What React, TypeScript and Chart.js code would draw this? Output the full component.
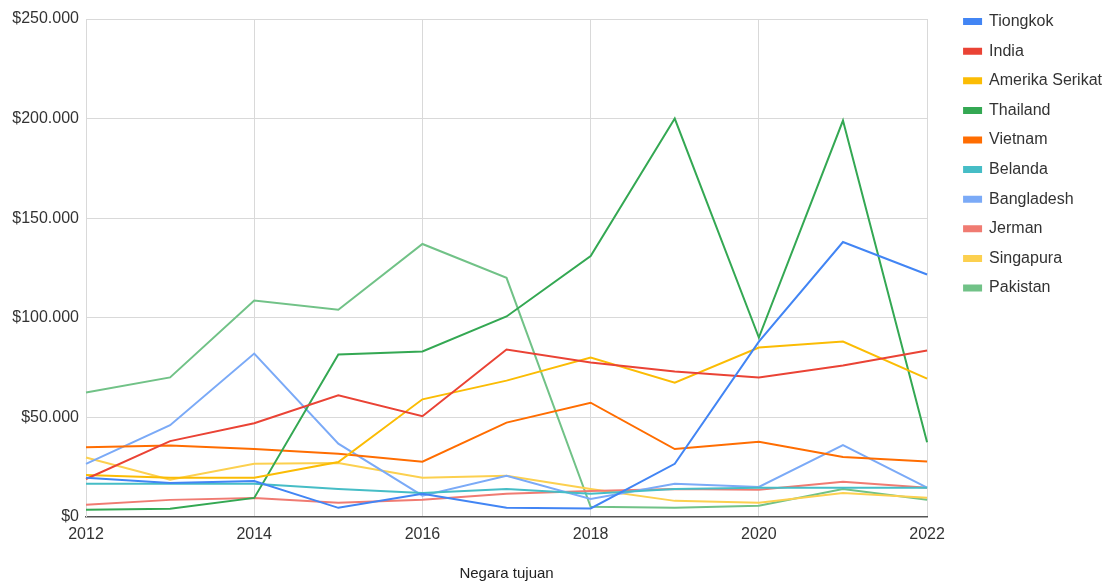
import React, { useEffect, useRef } from "react";
import { Chart, registerables } from "chart.js";

Chart.register(...registerables);

const years = ["2012", "2013", "2014", "2015", "2016", "2017", "2018", "2019", "2020", "2021", "2022"];

const tiongkok = [19600, 17000, 18000, 4500, 11600, 4500, 4200, 26600, 88000, 138000, 121700];
const india = [19000, 38000, 47000, 61000, 50500, 84000, 77500, 73000, 70000, 76000, 83500];
const amerikaSerikat = [21000, 19600, 19600, 27500, 59000, 68400, 80000, 67400, 85000, 88000, 69400];
const thailand = [3500, 4000, 9500, 81500, 83000, 100600, 131000, 200000, 90000, 199000, 37500];
const vietnam = [34900, 35800, 34000, 31700, 27700, 47300, 57300, 34000, 37700, 30000, 27800];
const belanda = [16600, 16600, 16600, 14000, 12000, 14000, 11600, 14000, 14600, 14600, 14600];
const bangladesh = [26600, 46000, 82000, 36700, 10600, 20600, 9000, 16600, 15000, 36000, 14600];
const jerman = [6000, 8500, 9500, 7000, 8600, 11600, 13000, 14000, 13600, 17600, 14600];
const singapura = [29800, 18600, 26600, 27000, 19600, 20600, 14000, 8000, 7000, 12000, 9600];
const pakistan = [62400, 70000, 108600, 104000, 137000, 120000, 5000, 4500, 5500, 14000, 8600];

const seriesNames = ["Tiongkok", "India", "Amerika Serikat", "Thailand", "Vietnam", "Belanda", "Bangladesh", "Jerman", "Singapura", "Pakistan"];
const seriesValues = [tiongkok, india, amerikaSerikat, thailand, vietnam, belanda, bangladesh, jerman, singapura, pakistan];
const seriesColors = ["#4285F4", "#EA4335", "#FBBC04", "#34A853", "#FF6D01", "#46BDC6", "#7BAAF7", "#F07B72", "#FCD04F", "#71C287"];

const yTicks = [0, 50000, 100000, 150000, 200000, 250000];
const xTitle = "Negara tujuan";

const FONT = "'Liberation Sans', Arial, sans-serif";

function fmt(v: number): string {
  const s = Math.round(v).toString();
  return "$" + s.replace(/\B(?=(\d{3})+(?!\d))/g, ".");
}

export default function App() {
  const ref = useRef<HTMLCanvasElement | null>(null);
  useEffect(() => {
    if (!ref.current) return;
    const chart = new Chart(ref.current, {
      type: "line",
      data: {
        labels: years,
        datasets: seriesNames.map((name, i) => ({
          label: name,
          data: seriesValues[i],
          borderColor: seriesColors[i],
          backgroundColor: seriesColors[i],
          borderWidth: 2,
          pointRadius: 0,
          pointHoverRadius: 0,
          tension: 0,
          fill: false,
        })),
      },
      options: {
        animation: false,
        responsive: false,
        maintainAspectRatio: false,
        layout: { padding: { left: 0, right: -2, top: 0, bottom: 0 } },
        plugins: {
          tooltip: { enabled: false },
          legend: {
            position: "right",
            align: "start",
            labels: {
              boxWidth: 17,
              boxHeight: 5,
              padding: 13.6,
              color: "#333",
              font: { family: FONT, size: 16 },
            },
          },
        },
        scales: {
          x: {
            type: "category",
            offset: false,
            grid: { color: "#d9d9d9", drawTicks: false, lineWidth: 1 },
            border: { color: "#555", width: 1.5 },
            ticks: {
              autoSkip: false,
              maxRotation: 0,
              padding: 8,
              color: "#333",
              font: { family: FONT, size: 16 },
              callback: (_v: any, idx: number) => (idx % 2 === 0 ? years[idx] : null),
            },
            title: {
              display: true,
              text: xTitle,
              color: "#222",
              font: { family: FONT, size: 15 },
              padding: { top: 13, bottom: 0 },
            },
          },
          y: {
            min: 0,
            max: 250000,
            afterBuildTicks: (s: any) => {
              s.ticks = yTicks.map((v) => ({ value: v }));
            },
            afterFit: (s: any) => {
              s.width = 86;
              s.paddingTop = 19;
            },
            grid: { color: "#d9d9d9", drawTicks: false },
            border: { color: "#d9d9d9" },
            ticks: {
              padding: 7,
              color: "#333",
              font: { family: FONT, size: 16 },
              callback: (v: any) => fmt(Number(v)),
            },
          },
          spacer: {
            type: "linear",
            position: "right",
            display: true,
            grid: { display: false },
            border: { display: false },
            ticks: { display: false },
            afterFit: (s: any) => {
              s.width = 23.4;
            },
          },
        },
      },
    });
    return () => chart.destroy();
  }, []);
  return (
    <div style={{ position: "fixed", left: 0, top: 0, width: 1110, height: 583, background: "#fff" }}>
      <canvas ref={ref} width={1110} height={583} style={{ width: 1110, height: 583 }} />
    </div>
  );
}
